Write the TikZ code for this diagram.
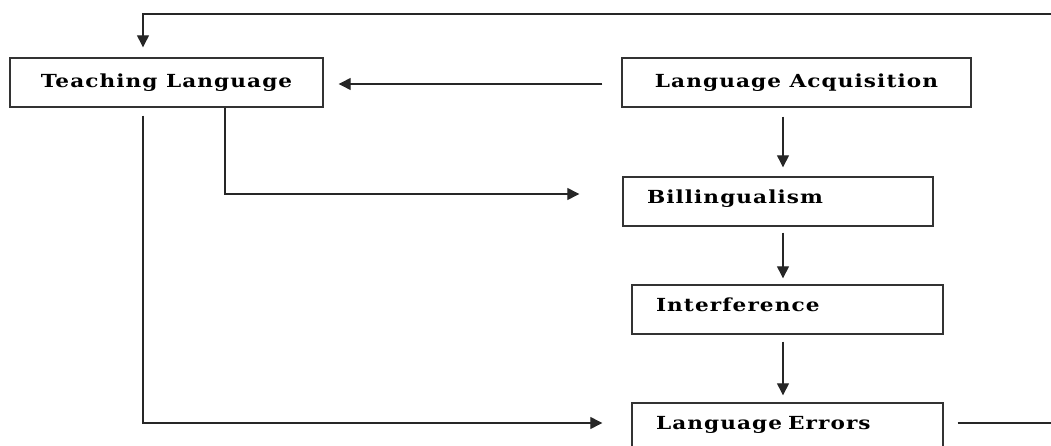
\documentclass[tikz,border=0pt]{standalone}
\usepackage{fontspec}
\newfontfamily\boxfont[FakeStretch=1.2, LetterSpace=6]{DejaVu Serif Bold}
\usetikzlibrary{arrows.meta,positioning}

\begin{document}
\begin{tikzpicture}[x=1pt, y=-1pt,
  box/.style={draw=black!80, line width=1.4pt, minimum height=49pt,
              inner sep=0pt, font=\boxfont\fontsize{18}{21}\selectfont, minimum width=#1},
  lbox/.style={box=#1, text width=#1-48pt, inner xsep=24pt, align=left,
               text height=13pt, text depth=9pt},
  arr/.style={-{Triangle[length=12pt, width=12pt]}, line width=1.3pt, black!85},
  gap/.style={shorten <=#1, shorten >=#1}]
\useasboundingbox (0,0) rectangle (1051,446);
\node[box=313pt] (teach) at (166.5,82.5) {Teaching Language};
\node[box=349pt] (acq) at (796.5,82.5) {Language Acquisition};
\node[lbox=310pt] (bil) at (778,201.5) {Billingualism};
\node[lbox=311pt] (intf) at (787.5,309.5) {Interference};
\node[lbox=311pt] (err) at (787.5,427.5) {Language Errors};
\coordinate (col) at (783,0);
\coordinate (loop) at (1070,14);
% main chain
\draw[arr, shorten <=19pt, shorten >=15pt] ([yshift=-1.5pt]acq.west) -- ([yshift=-1.5pt]teach.east);
\draw[arr, gap=9pt] (acq.south -| col) -- (bil.north -| col);
\draw[arr, gap=6pt] (bil.south -| col) -- (intf.north -| col);
\draw[arr, gap=7pt] (intf.south -| col) -- (err.north -| col);
% from teaching language
\draw[arr, shorten >=43pt] ([xshift=58.5pt]teach.south) |- ([yshift=7.5pt]bil.west);
\draw[arr, shorten <=8pt, shorten >=29pt] ([xshift=-23.5pt]teach.south) |- ([yshift=4.5pt]err.west);
% feedback
\draw[arr, shorten <=14pt, shorten >=10pt] ([yshift=4.5pt]err.east) -| (loop) -| ([xshift=-23.5pt]teach.north);
\end{tikzpicture}
\end{document}
